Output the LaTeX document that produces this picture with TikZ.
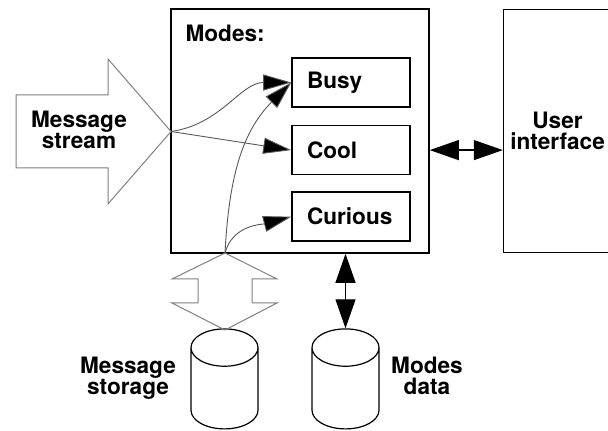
\documentclass[tikz,border=0pt]{standalone}
\usepackage{fontspec}
\setmainfont{TeX Gyre Heros}
\usepackage{tikz}
\usetikzlibrary{arrows.meta, shapes.geometric, positioning}

\begin{document}
\begin{tikzpicture}[
                x=0.5pt, y=-0.5pt,
                lbl/.style={font=\fontsize{11.3}{10.4}\selectfont\bfseries, align=center},
                box/.style={rectangle, draw, line width=0.8pt},
                mode/.style={box, lbl, minimum width=59pt, minimum height=24.5pt, text width=44pt, inner xsep=7.5pt, align=left},
                hollow/.style={draw=black!50, line width=0.5pt},
                feed/.style={draw=black!65, line width=0.45pt, -{Triangle[length=14pt, width=8pt, fill=black]}},
                link/.style={line width=0.6pt, {Triangle[length=14.5pt, width=10pt]}-{Triangle[length=14.5pt, width=10pt]}},
                store/.style={cylinder, shape border rotate=90, draw, line width=0.6pt, aspect=2.8, minimum width=33.5pt, minimum height=50pt, anchor=bottom}
            ]
                \useasboundingbox (0,0) rectangle (608,431);

                % Modes
                \node[box, minimum width=129pt, minimum height=122pt] (modes) at (300,131) {};
                \node[lbl, anchor=north west, inner sep=0pt] (modeshead) at ([xshift=7.5pt, yshift=-8pt]modes.north west) {Modes:};
                \node[mode] (busy) at (351,82.5) {Busy};
                \node[mode, below=8.5pt of busy] (cool) {Cool};
                \node[mode, below=8pt of cool] (curious) {Curious};

                % User interface
                \node[box, lbl, minimum width=51.5pt, minimum height=121.5pt, right=36.5pt of modes] (ui) {User\\interface};

                % Stores
                \node[store] (msgstore) at (224.5,429.5) {};
                \node[store] (data) at (345.5,429.5) {};
                \node[lbl] (msglbl) at (128,378.5) {Message\\storage};
                \node[lbl] (datalbl) at (427,376) {Modes\\data};

                % Hollow arrows
                \coordinate (tip) at (171,131.5);
                \coordinate (gate) at (225,253);
                \draw[hollow] (16,95) -- (108,95) -- (108,59) -- (tip) -- (108,204) -- (108,168) -- (16,168) -- cycle;
                \draw[hollow] (gate) -- (277,279) -- (252,279) -- (252,303) -- (277,303) -- (225,330)
                    -- (172,303) -- (198,303) -- (198,279) -- (172,279) -- cycle;
                \node[lbl] (streamlbl) at (79,130) {Message\\stream};

                % Feeds
                \draw[feed] (tip) to[out=8, in=180] (busy.west);
                \draw[feed] (tip) -- (cool.west);
                \draw[feed] (gate) to[out=87, in=-135] (busy.west);
                \draw[feed] (gate) to[out=75, in=195] (curious.west);

                % Links
                \draw[link] (modes.south -| data.top) -- (data.top);
                \draw[link] (modes.east |- cool) -- (ui.west |- cool);
            \end{tikzpicture}
\end{document}
